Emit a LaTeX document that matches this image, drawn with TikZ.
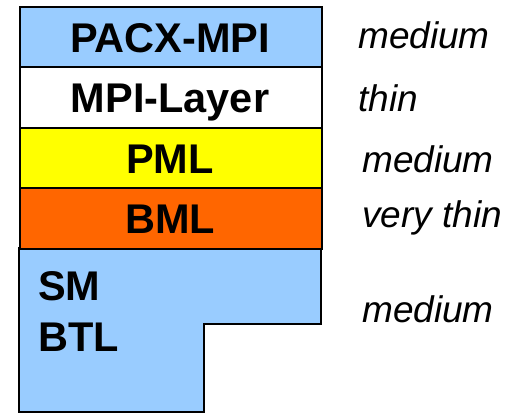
\documentclass[tikz,border=0pt]{standalone}
\usepackage{fontspec}
\setmainfont{Liberation Sans}
\definecolor{layerblue}{HTML}{99CCFF}
\definecolor{layeryellow}{HTML}{FFFF00}
\definecolor{layerorange}{HTML}{FF6600}
\begin{document}
\begin{tikzpicture}[x=1pt,y=-1pt,
  layerbox/.style={draw=black,line width=2.4pt,minimum width=302pt,inner sep=0pt,anchor=north west},
  layertext/.style={anchor=base,inner sep=0pt,font=\fontsize{41.5}{44}\selectfont\bfseries},
  sidetext/.style={anchor=base west,inner sep=0pt,font=\fontsize{37}{40}\selectfont\itshape}]
  \useasboundingbox (0,0) rectangle (516,414);
  % bottom L-shaped layer
  \draw[line width=2.4pt,fill=layerblue,line join=miter]
    (19,248) -- (321,248) -- (321,324) -- (204,324) -- (204,412) -- (19,412) -- cycle;
  % stacked layers
  \node[layerbox,fill=layerblue,minimum height=60pt] (pacx) at (19,6) {};
  \node[layerbox,fill=white,minimum height=61pt] (mpil) at (19,66) {};
  \node[layerbox,fill=layeryellow,minimum height=60pt] (pml) at (19,127) {};
  \node[layerbox,fill=layerorange,minimum height=61pt] (bml) at (19,187) {};
  % layer names
  \node[layertext] (tpacx) at (170,53) {PACX-MPI};
  \node[layertext] (tmpil) at (170,113) {MPI-Layer};
  \node[layertext] (tpml) at (170,173) {PML};
  \node[layertext] (tbml) at (170,233) {BML};
  \node[layertext,anchor=base west] (tsm) at (38,300) {SM};
  \node[layertext,anchor=base west] (tbtl) at (38,351) {BTL};
  % thickness labels
  \node[sidetext] (s1) at (358,49) {medium};
  \node[sidetext] (s2) at (358,112) {thin};
  \node[sidetext] (s3) at (362,172) {medium};
  \node[sidetext] (s4) at (362,227) {very thin};
  \node[sidetext] (s5) at (362,322) {medium};
\end{tikzpicture}
\end{document}
